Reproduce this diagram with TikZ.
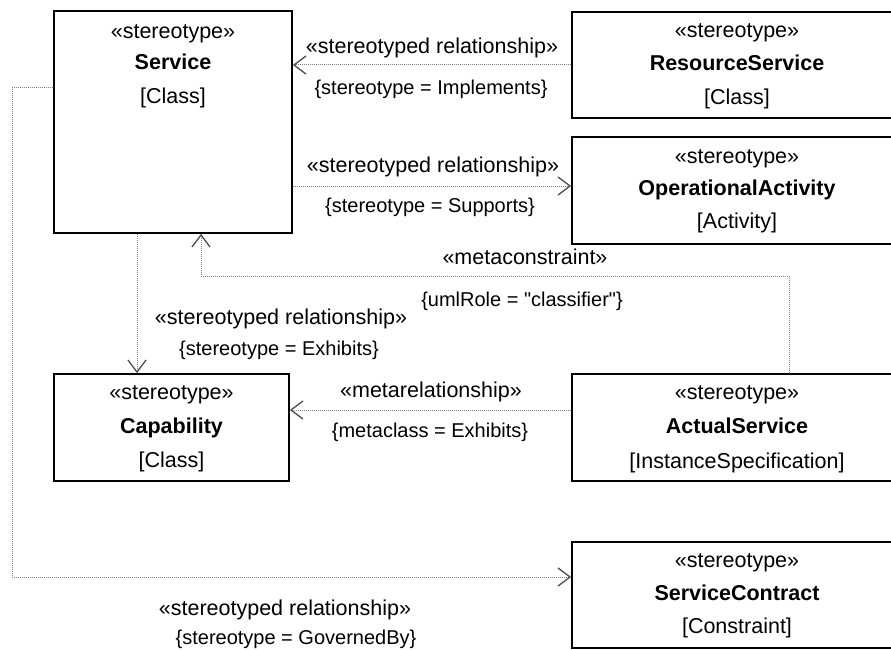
\documentclass[tikz,border=0pt]{standalone}
\usepackage{fontspec}
\setmainfont{Liberation Sans}
\newfontfamily\qfont{Liberation Sans}[Ligatures=TeXOff]
\usetikzlibrary{arrows.meta,calc}
\begin{document}
\begin{tikzpicture}[x=1pt,y=-1pt,
  box/.style={draw=black,line width=1.8pt,fill=white,rectangle,inner sep=0pt},
  st/.style={font=\fontsize{21.5}{24}\selectfont,text height=15.5pt,text depth=0.5pt,inner sep=0pt},
  nm/.style={font=\fontsize{21.5}{24}\selectfont\bfseries,text height=15.5pt,text depth=0.5pt,inner sep=0pt},
  cn/.style={font=\fontsize{20}{24}\selectfont,text height=14.5pt,text depth=0.3pt,inner sep=0pt},
  conn/.style={draw=black!50,line width=1pt,dash pattern=on 1pt off 1pt,
    -{Straight Barb[length=12pt,width=18pt,line width=1.3pt,color=black!70]}}
]
\useasboundingbox (0,0) rectangle (891,650);
\clip (0,0) rectangle (891,650);

% boxes
\node[box,minimum width=238pt,minimum height=222pt] (svc) at (173,122) {};
\node[box,minimum width=330pt,minimum height=106pt] (res) at (737,65) {};
\node[box,minimum width=330pt,minimum height=107pt] (opact) at (737,190.5) {};
\node[box,minimum width=235pt,minimum height=107pt] (cap) at (171.5,427.5) {};
\node[box,minimum width=330pt,minimum height=107pt] (act) at (737,427.5) {};
\node[box,minimum width=330pt,minimum height=106pt] (sc) at (737,595) {};

% box texts
\node[st] (svc-s) at ($(svc.north)+(0,21)$) {«stereotype»};
\node[nm] (svc-n) at ($(svc.north)+(0,52)$) {Service};
\node[st] (svc-m) at ($(svc.north)+(0,86)$) {[Class]};

\node[st] (res-s) at ($(res.north)+(0,19)$) {«stereotype»};
\node[nm] (res-n) at ($(res.north)+(0,52)$) {ResourceService};
\node[st] (res-m) at ($(res.north)+(0,86)$) {[Class]};

\node[st] (opact-s) at ($(opact.north)+(0,20)$) {«stereotype»};
\node[nm] (opact-n) at ($(opact.north)+(0,52)$) {OperationalActivity};
\node[st] (opact-m) at ($(opact.north)+(0,85)$) {[Activity]};

\node[st] (cap-s) at ($(cap.north)+(0,19)$) {«stereotype»};
\node[nm] (cap-n) at ($(cap.north)+(0,53)$) {Capability};
\node[st] (cap-m) at ($(cap.north)+(0,87)$) {[Class]};

\node[st] (act-s) at ($(act.north)+(0,19)$) {«stereotype»};
\node[nm] (act-n) at ($(act.north)+(0,53)$) {ActualService};
\node[st] (act-m) at ($(act.north)+(0,88)$) {[InstanceSpecification]};

\node[st] (sc-s) at ($(sc.north)+(0,19)$) {«stereotype»};
\node[nm] (sc-n) at ($(sc.north)+(0,52)$) {ServiceContract};
\node[st] (sc-m) at ($(sc.north)+(0,85)$) {[Constraint]};

% helper coordinates
\coordinate (y186) at (0,186);
\coordinate (y276) at (0,276);
\coordinate (y410) at (0,410);
\coordinate (y88) at (0,88);
\coordinate (y577) at (0,577);
\coordinate (x137) at (137,0);
\coordinate (x201) at (201,0);
\coordinate (x789) at (789,0);
\coordinate (x12) at (12,0);

% connectors
\draw[conn] (res.west) -- (res.west -| svc.east);
\draw[conn] (svc.east |- y186) -- (opact.west |- y186);
\draw[conn] (svc.south -| x137) -- (cap.north -| x137);
\draw[conn] (act.north -| x789) -- (x789 |- y276) -- (x201 |- y276) -- (svc.south -| x201);
\draw[conn] (act.west |- y410) -- (cap.east |- y410);
\draw[conn] (svc.west |- y88) -- (x12 |- y88) -- (x12 |- y577) -- (sc.west |- y577);

% connector labels
\node[st] (l1a) at (432,46) {«stereotyped relationship»};
\node[cn] (l1b) at (431,87) {\{stereotype = Implements\}};
\node[st] (l2a) at (433,165) {«stereotyped relationship»};
\node[cn] (l2b) at (430,205) {\{stereotype = Supports\}};
\node[st] (l3a) at (525,257) {«metaconstraint»};
\node[cn] (l3b) at (522,299) {\{umlRole = {\qfont"}classifier{\qfont"}\}};
\node[st] (l4a) at (281,317) {«stereotyped relationship»};
\node[cn] (l4b) at (279,348) {\{stereotype = Exhibits\}};
\node[st] (l5a) at (431,390) {«metarelationship»};
\node[cn] (l5b) at (430,430) {\{metaclass = Exhibits\}};
\node[st] (l6a) at (285,608) {«stereotyped relationship»};
\node[cn] (l6b) at (296,637) {\{stereotype = GovernedBy\}};
\end{tikzpicture}
\end{document}
